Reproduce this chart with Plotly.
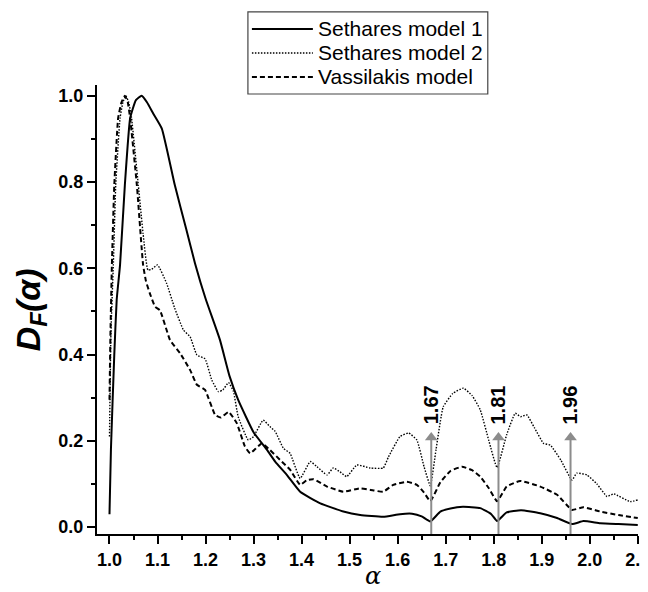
import plotly.graph_objects as go

# ---- data ----
s1_x = [1.000, 1.003, 1.010, 1.015, 1.022, 1.032, 1.043, 1.055, 1.067, 1.078, 1.091, 1.109,
        1.136, 1.160, 1.178, 1.200, 1.230, 1.250, 1.268, 1.300, 1.328, 1.345, 1.370, 1.397,
        1.439, 1.487, 1.522, 1.570, 1.605, 1.630, 1.650, 1.668, 1.689, 1.710, 1.736, 1.772,
        1.795, 1.807, 1.827, 1.857, 1.897, 1.932, 1.963, 1.987, 2.022, 2.060, 2.100]
s1_y = [0.030, 0.180, 0.400, 0.527, 0.608, 0.793, 0.948, 0.990, 1.000, 0.985, 0.959, 0.924,
        0.793, 0.690, 0.612, 0.530, 0.434, 0.350, 0.295, 0.220, 0.179, 0.152, 0.120, 0.082,
        0.055, 0.036, 0.028, 0.024, 0.030, 0.031, 0.025, 0.013, 0.036, 0.043, 0.047, 0.044,
        0.030, 0.014, 0.034, 0.039, 0.032, 0.021, 0.007, 0.014, 0.009, 0.007, 0.005]

s2_x = [1.000, 1.003, 1.008, 1.013, 1.022, 1.028, 1.034, 1.040, 1.046, 1.060, 1.070, 1.080,
        1.088, 1.100, 1.119, 1.135, 1.154, 1.168, 1.182, 1.199, 1.213, 1.227, 1.236, 1.248,
        1.258, 1.268, 1.289, 1.300, 1.320, 1.334, 1.345, 1.362, 1.376, 1.397, 1.418, 1.432,
        1.453, 1.466, 1.480, 1.494, 1.515, 1.543, 1.570, 1.581, 1.605, 1.623, 1.640, 1.655,
        1.668, 1.680, 1.695, 1.715, 1.737, 1.755, 1.772, 1.790, 1.807, 1.827, 1.845, 1.856,
        1.869, 1.885, 1.904, 1.918, 1.940, 1.963, 1.973, 1.994, 2.015, 2.036, 2.050, 2.084,
        2.100]
s2_y = [0.210, 0.450, 0.608, 0.793, 0.948, 0.985, 1.000, 0.985, 0.948, 0.793, 0.680, 0.596,
        0.598, 0.608, 0.565, 0.510, 0.457, 0.441, 0.399, 0.390, 0.341, 0.314, 0.318, 0.335,
        0.315, 0.256, 0.202, 0.210, 0.248, 0.233, 0.222, 0.183, 0.171, 0.113, 0.152, 0.140,
        0.121, 0.137, 0.128, 0.117, 0.144, 0.137, 0.137, 0.163, 0.210, 0.218, 0.202, 0.140,
        0.096, 0.180, 0.279, 0.310, 0.322, 0.305, 0.272, 0.200, 0.138, 0.214, 0.264, 0.256,
        0.260, 0.230, 0.194, 0.190, 0.155, 0.109, 0.125, 0.121, 0.100, 0.071, 0.077, 0.059,
        0.063]

v_x = [1.000, 1.002, 1.005, 1.010, 1.018, 1.025, 1.032, 1.038, 1.043, 1.057, 1.070, 1.076,
       1.084, 1.095, 1.105, 1.126, 1.147, 1.168, 1.182, 1.199, 1.220, 1.232, 1.248, 1.265,
       1.282, 1.293, 1.317, 1.334, 1.355, 1.376, 1.397, 1.411, 1.425, 1.453, 1.487, 1.522,
       1.550, 1.570, 1.591, 1.619, 1.640, 1.655, 1.668, 1.689, 1.710, 1.734, 1.755, 1.772,
       1.790, 1.807, 1.827, 1.855, 1.897, 1.932, 1.963, 1.987, 2.022, 2.060, 2.100]
v_y = [0.295, 0.450, 0.608, 0.793, 0.948, 0.985, 1.000, 0.985, 0.948, 0.793, 0.608, 0.570,
       0.542, 0.511, 0.503, 0.434, 0.403, 0.364, 0.330, 0.318, 0.260, 0.254, 0.267, 0.241,
       0.187, 0.171, 0.194, 0.179, 0.156, 0.133, 0.098, 0.109, 0.111, 0.094, 0.082, 0.090,
       0.085, 0.082, 0.098, 0.105, 0.098, 0.080, 0.060, 0.104, 0.130, 0.140, 0.132, 0.117,
       0.090, 0.060, 0.094, 0.107, 0.094, 0.075, 0.040, 0.046, 0.036, 0.028, 0.021]

series_names = ["Sethares model 1", "Sethares model 2", "Vassilakis model"]
marker_x = [1.67, 1.81, 1.96]
marker_labels = ["1.67", "1.81", "1.96"]
arrow_base = -0.016
arrow_head = 0.208
label_y = 0.283

x_ticks = [1.0, 1.1, 1.2, 1.3, 1.4, 1.5, 1.6, 1.7, 1.8, 1.9, 2.0, 2.1]
y_ticks = [0.0, 0.2, 0.4, 0.6, 0.8, 1.0]

FONT = "Arial, Liberation Sans, sans-serif"
dashes = ["solid", "1.5px,1.5px", "5px,3px"]
widths = [2.0, 1.4, 2.0]
ARROW_COLOR = "#8c8c8c"

# the page body has an 8px default margin: work in window pixels, then shift
OFF = 8
W, H = 648 - OFF, 592 - OFF
PL, PR, PT, PB = 97 - OFF, 638.3 - OFF, 85 - OFF, 533.7 - OFF
def px(xw):
    return (xw - OFF - PL) / (PR - PL)
def py(yw):
    return (PB - (yw - OFF)) / (PB - PT)

fig = go.Figure()
for name, xs, ys, d, w in zip(series_names, [s1_x, s2_x, v_x], [s1_y, s2_y, v_y], dashes, widths):
    fig.add_trace(go.Scatter(x=xs, y=ys, mode="lines", name=name, showlegend=False,
                             line=dict(color="black", width=w, dash=d, shape="spline", smoothing=0.4)))

# arrows (shaft + head) and labels
for mx, lab in zip(marker_x, marker_labels):
    fig.add_trace(go.Scatter(x=[mx, mx], y=[arrow_base, arrow_head], mode="lines", showlegend=False,
                             line=dict(color=ARROW_COLOR, width=2), hoverinfo="skip"))
    fig.add_trace(go.Scatter(x=[mx], y=[arrow_head], mode="markers", showlegend=False,
                             marker=dict(symbol="triangle-up", size=11, color=ARROW_COLOR,
                                         line=dict(width=0)), hoverinfo="skip"))
    fig.add_annotation(x=mx, y=label_y, xref="x", yref="y", text="<b>" + lab + "</b>",
                       textangle=-90, showarrow=False, font=dict(family=FONT, size=20, color="black"),
                       xanchor="center", yanchor="middle")

# manual legend
L, R, T, B = 248, 488, 12, 94
fig.add_shape(type="rect", xref="paper", yref="paper", x0=px(L), x1=px(R), y0=py(B), y1=py(T),
              line=dict(color="#444444", width=1.2), fillcolor="white", layer="above")
row_y = [29, 53, 77]
for name, d, w, ry in zip(series_names, dashes, widths, row_y):
    fig.add_shape(type="line", xref="paper", yref="paper", x0=px(252), x1=px(313), y0=py(ry), y1=py(ry),
                  line=dict(color="black", width=w, dash=d), layer="above")
    fig.add_annotation(x=px(316), y=py(ry), xref="paper", yref="paper", text=name, showarrow=False,
                       xanchor="left", yanchor="middle", font=dict(family=FONT, size=21, color="black"))

# axis titles as annotations
fig.add_annotation(x=1.548, y=py(576), xref="x", yref="paper", text="<i>α</i>", showarrow=False,
                   xanchor="center", yanchor="middle", borderpad=0,
                   font=dict(family="DejaVu Serif, serif", size=24, color="black"))
fig.add_annotation(x=px(30), y=py(310), xref="paper", yref="paper", text="<b><i>D<sub>F</sub>(α)</i></b>",
                   textangle=-90, showarrow=False, xanchor="center", yanchor="middle",
                   font=dict(family=FONT, size=34, color="black"))

fig.update_layout(
    width=W, height=H,
    margin=dict(l=PL, r=W - PR, t=PT, b=H - PB, autoexpand=False),
    plot_bgcolor="white", paper_bgcolor="white",
    font=dict(family=FONT, color="black"),
    xaxis=dict(range=[0.974, 2.1005], tickvals=x_ticks, ticktext=[f"{v:.1f}" for v in x_ticks],
               ticks="outside", ticklen=8, tickwidth=2, tickcolor="black", ticklabeloverflow="allow",
               minor=dict(dtick=0.05, tick0=1.0, ticks="outside", ticklen=4, tickwidth=2, tickcolor="black"),
               showline=True, linecolor="black", linewidth=2, mirror=False,
               showgrid=False, zeroline=False, automargin=False,
               tickfont=dict(family=FONT, size=18, weight="bold")),
    yaxis=dict(range=[-0.016, 1.025], tickvals=y_ticks, ticktext=[f"{v:.1f}" for v in y_ticks],
               ticks="outside", ticklen=8, tickwidth=2, tickcolor="black", ticklabeloverflow="allow",
               minor=dict(dtick=0.1, tick0=0.0, ticks="outside", ticklen=4, tickwidth=2, tickcolor="black"),
               showline=True, linecolor="black", linewidth=2, mirror=False,
               showgrid=False, zeroline=False, automargin=False,
               tickfont=dict(family=FONT, size=18, weight="bold")),
)

fig.write_html("out.html")
